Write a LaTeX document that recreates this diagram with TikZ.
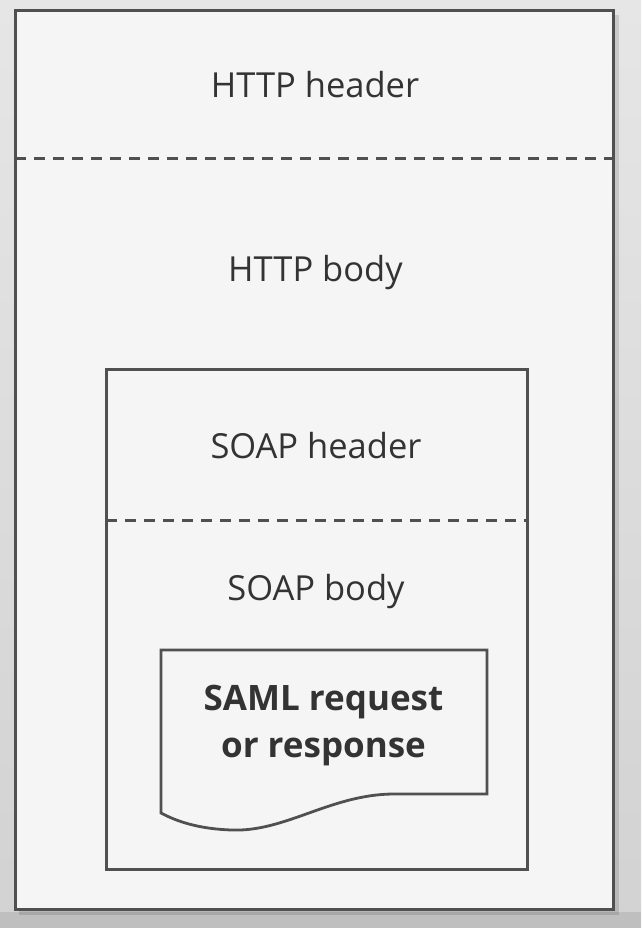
\documentclass[tikz,border=0pt]{standalone}
\usepackage{fontspec}
\setmainfont{Open Sans}
\definecolor{linegray}{HTML}{505050}
\definecolor{paper}{HTML}{F5F5F5}
\definecolor{txtgray}{HTML}{333333}
\definecolor{bgtop}{HTML}{E6E6E6}
\definecolor{bgbot}{HTML}{D2D2D2}
\tikzset{
  frame/.style={draw=linegray, line width=3pt, fill=paper},
  sep/.style={draw=linegray, line width=3pt, dash pattern=on 11pt off 8pt},
  lbl/.style={anchor=base, text=txtgray, inner sep=0pt, font=\fontsize{34.5}{42}\selectfont},
  blbl/.style={anchor=base, text=txtgray, inner sep=0pt, align=center, font=\fontsize{35}{47}\selectfont\bfseries},
}
\begin{document}
\begin{tikzpicture}[x=1pt,y=-1pt]
\useasboundingbox (0,0) rectangle (641,928);
\shade[top color=bgtop, bottom color=bgbot] (0,0) rectangle (641,928);
\fill[black!25] (0,912) rectangle (641,928);
% outer frame
\fill[black, opacity=0.12] (19,15) rectangle (619,915);
\coordinate (otl) at (15,11);
\coordinate (obr) at (613,909);
\draw[frame] (otl) rectangle (obr);
\coordinate (hsepL) at (15,159);
\coordinate (hsepR) at (613,159);
\draw[sep] (hsepL) -- (hsepR);
% inner frame
\coordinate (itl) at (106,369);
\coordinate (ibr) at (527,869);
\draw[frame] (itl) rectangle (ibr);
\coordinate (ssepL) at (106,520);
\coordinate (ssepR) at (527,520);
\draw[sep] (ssepL) -- (ssepR);
% document shape
\draw[frame, line width=2.8pt] (161,650) -- (487,650) -- (487,794) -- (392,794)
  .. controls (330,795) and (285,832) .. (232,830)
  .. controls (198,829) and (176,821) .. (161,813) -- cycle;
% labels
\node[lbl] (httph) at (315,98) {HTTP header};
\node[lbl] (httpb) at (315.5,281) {HTTP body};
\node[lbl] (soaph) at (316,458) {SOAP header};
\node[lbl] (soapb) at (316,600) {SOAP body};
\node[blbl] (saml) at (323.5,757) {SAML request\\or response};
\end{tikzpicture}
\end{document}
